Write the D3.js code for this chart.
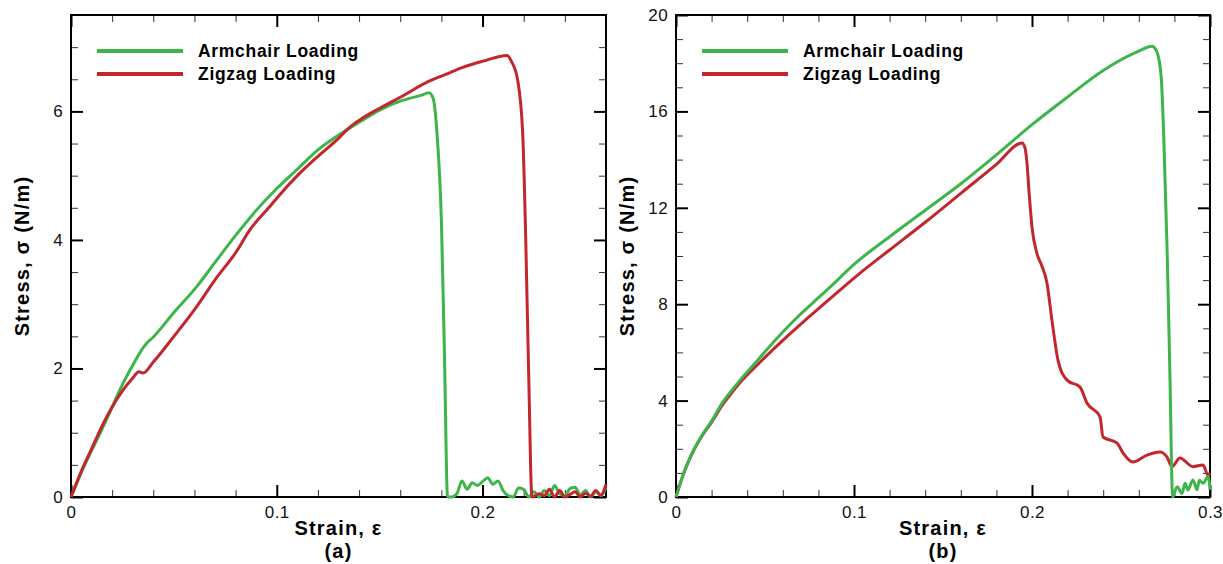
<!DOCTYPE html>
<html>
<head>
<meta charset="utf-8">
<script src="https://cdn.jsdelivr.net/npm/d3@7"></script>
<style>
  body { margin: 0; background: #fff; }
  svg { font-family: 'Liberation Sans', Arial, sans-serif; }
</style>
</head>
<body>
<svg id="chart" width="1223" height="564"></svg>
<script>
// panel (a): [strain, stress]
const armchairA = [
  [0, 0], [0.005, 0.38], [0.01, 0.72], [0.015, 1.05], [0.02, 1.4], [0.025, 1.75],
  [0.03, 2.05], [0.035, 2.32], [0.037, 2.4], [0.04, 2.49], [0.05, 2.87], [0.061, 3.27],
  [0.07, 3.65], [0.08, 4.07], [0.09, 4.46], [0.1, 4.8], [0.11, 5.1], [0.12, 5.4],
  [0.13, 5.63], [0.14, 5.83], [0.15, 6.02], [0.16, 6.16], [0.17, 6.25], [0.174, 6.29],
  [0.176, 6.2], [0.178, 5.6], [0.18, 4.3], [0.1815, 2.2], [0.183, 0],
  [0.185, 0], [0.1875, 0.05], [0.19, 0.25], [0.1925, 0.12], [0.195, 0.22], [0.1975, 0.18],
  [0.2, 0.24], [0.2025, 0.3], [0.205, 0.2], [0.2075, 0.25], [0.21, 0.1], [0.2125, 0.02],
  [0.215, 0], [0.2175, 0.14], [0.22, 0.12], [0.2225, 0], [0.225, 0.08], [0.2275, 0],
  [0.23, 0.1], [0.2325, 0.02], [0.235, 0.18], [0.2375, 0.05], [0.24, 0.02], [0.2425, 0.13],
  [0.245, 0.15], [0.2475, 0.03], [0.25, 0.1], [0.2525, 0], [0.255, 0.08], [0.2575, 0.02], [0.26, 0.15]
]
const zigzagA = [
  [0, 0], [0.005, 0.4], [0.01, 0.75], [0.015, 1.1], [0.02, 1.4], [0.025, 1.65],
  [0.03, 1.85], [0.033, 1.95], [0.035, 1.93], [0.04, 2.1], [0.05, 2.5], [0.061, 2.96],
  [0.07, 3.38], [0.08, 3.8], [0.087, 4.16], [0.0966, 4.52], [0.1, 4.65], [0.11, 5.0],
  [0.12, 5.3], [0.13, 5.58], [0.135, 5.74], [0.14, 5.86], [0.15, 6.05], [0.16, 6.22],
  [0.174, 6.47], [0.184, 6.6], [0.19, 6.68], [0.2, 6.78], [0.212, 6.87], [0.214, 6.78],
  [0.217, 6.5], [0.2195, 5.67], [0.221, 4.0], [0.2225, 1.8], [0.224, 0],
  [0.2275, 0.05], [0.23, 0.02], [0.2325, 0.12], [0.235, 0], [0.2375, 0.1], [0.24, 0],
  [0.2425, 0.04], [0.245, 0.08], [0.2475, 0], [0.25, 0.06], [0.2525, 0.01], [0.255, 0.1],
  [0.2575, 0.03], [0.26, 0.2]
]

// panel (b): [strain, stress]
const armchairB = [
  [0, 0], [0.003, 0.7], [0.006, 1.3], [0.01, 1.95], [0.015, 2.6], [0.02, 3.15],
  [0.0264, 3.95], [0.03, 4.3], [0.036, 4.85], [0.045, 5.6], [0.0562, 6.55], [0.068, 7.45],
  [0.0805, 8.3], [0.09, 8.95], [0.1, 9.65], [0.12, 10.8], [0.14, 11.9], [0.16, 13.0],
  [0.18, 14.2], [0.2, 15.45], [0.22, 16.6], [0.24, 17.7], [0.26, 18.5], [0.2674, 18.7],
  [0.27, 18.5], [0.2725, 17.5], [0.274, 15], [0.276, 10], [0.2775, 5], [0.279, 0],
  [0.2815, 0.43], [0.2843, 0.15], [0.286, 0.57], [0.2876, 0.29], [0.2904, 0.71],
  [0.2927, 0.3], [0.294, 0.7], [0.2961, 0.57], [0.299, 0.85], [0.3, 0.3]
]
const zigzagB = [
  [0, 0], [0.003, 0.7], [0.006, 1.3], [0.01, 1.95], [0.015, 2.58], [0.02, 3.1],
  [0.0264, 3.85], [0.03, 4.2], [0.036, 4.75], [0.0466, 5.55], [0.06, 6.5], [0.0747, 7.47],
  [0.09, 8.45], [0.1034, 9.29], [0.12, 10.25], [0.14, 11.4], [0.16, 12.6], [0.18, 13.8],
  [0.1944, 14.69], [0.196, 14.5], [0.197, 14.0], [0.1985, 12.5], [0.2, 11.2], [0.2028, 10.1],
  [0.2055, 9.6], [0.2084, 8.88], [0.2112, 7.34], [0.2146, 5.68], [0.2197, 4.85], [0.227, 4.56],
  [0.2309, 3.9], [0.2382, 3.32], [0.2399, 2.49], [0.2478, 2.24], [0.2511, 1.83], [0.2567, 1.45],
  [0.2646, 1.74], [0.2719, 1.87], [0.2758, 1.66], [0.2787, 1.26], [0.2831, 1.62], [0.2904, 1.26],
  [0.2961, 1.33], [0.2989, 0.9], [0.3, 1.0]
]

const seriesNames = ['Armchair Loading', 'Zigzag Loading']
const panelLabels = ['(a)', '(b)']
const xMajorTicksA = [0, 0.1, 0.2]
const yMajorTicksA = [0, 2, 4, 6]
const xMajorTicksB = [0, 0.1, 0.2, 0.3]
const yMajorTicksB = [0, 4, 8, 12, 16, 20]

const green = '#3db54a'
const red = '#c1272d'

const svg = d3.select('#chart')

/**
 * Draws one stress-strain panel
 */
function drawPanel (opts) {
  const { left, right, top, bottom } = opts
  const g = svg.append('g')

  const x = d3.scaleLinear().domain(opts.xDomain).range([left, right])
  const y = d3.scaleLinear().domain(opts.yDomain).range([bottom, top])

  const minorX = d3.range(opts.xDomain[0], opts.xDomain[1] + 1e-9, opts.xMinor)
    .filter(v => !opts.xMajor.some(m => Math.abs(m - v) < 1e-9))
  const minorY = d3.range(opts.yDomain[0], opts.yDomain[1] + 1e-9, opts.yMinor)
    .filter(v => !opts.yMajor.some(m => Math.abs(m - v) < 1e-9))

  const axes = [
    [d3.axisBottom, `translate(0,${bottom})`, x, true],
    [d3.axisTop, `translate(0,${top})`, x, false],
    [d3.axisLeft, `translate(${left},0)`, y, true],
    [d3.axisRight, `translate(${right},0)`, y, false]
  ]
  axes.forEach(([axisFn, tr, scale, labels]) => {
    const isX = scale === x
    const major = isX ? opts.xMajor : opts.yMajor
    const minor = isX ? minorX : minorY
    const minorAxis = g.append('g').attr('transform', tr)
      .call(axisFn(scale).tickValues(minor).tickSize(-7).tickFormat(''))
    minorAxis.selectAll('.tick line').attr('stroke', '#333').attr('stroke-width', 1)
    const majorAxis = g.append('g').attr('transform', tr)
      .call(axisFn(scale).tickValues(major).tickSize(-12).tickPadding(isX ? 9 : 8)
        .tickFormat(labels ? (d => d3.format('~g')(d)) : ''))
    majorAxis.selectAll('.tick line').attr('stroke', '#000').attr('stroke-width', 2)
    majorAxis.selectAll('text')
      .style('font-size', '17px').style('letter-spacing', '0.4px').attr('fill', '#111')
    g.selectAll('.domain').remove()
  })

  g.append('rect')
    .attr('x', left).attr('y', top)
    .attr('width', right - left).attr('height', bottom - top)
    .attr('fill', 'none').attr('stroke', '#000').attr('stroke-width', 2)

  const line = d3.line().x(d => x(d[0])).y(d => y(d[1])).curve(d3.curveMonotoneX)
  opts.series.forEach(s => {
    g.append('path')
      .datum(s.data)
      .attr('d', line)
      .attr('fill', 'none')
      .attr('stroke', s.color)
      .attr('stroke-width', 3)
      .attr('stroke-linejoin', 'round')
  })

  // legend
  const legend = g.append('g')
  ;[green, red].forEach((c, i) => {
    const ly = top + 36 + i * 23
    legend.append('line')
      .attr('x1', left + 26).attr('x2', left + 112)
      .attr('y1', ly).attr('y2', ly)
      .attr('stroke', c).attr('stroke-width', 4)
    legend.append('text')
      .attr('x', left + 127).attr('y', ly + 6)
      .style('font-size', '17.5px').style('font-weight', 'bold')
      .style('letter-spacing', '0.7px')
      .text(seriesNames[i])
  })

  const cx = (left + right) / 2
  g.append('text')
    .attr('x', cx).attr('y', 535)
    .attr('text-anchor', 'middle')
    .style('font-size', '20px').style('font-weight', 'bold').style('letter-spacing', '1.2px')
    .text('Strain, ε')
  g.append('text')
    .attr('x', cx).attr('y', 558)
    .attr('text-anchor', 'middle')
    .style('font-size', '20px').style('font-weight', 'bold').style('letter-spacing', '1.2px')
    .text(opts.label)
  g.append('text')
    .attr('transform', `translate(${opts.yTitleX},${(top + bottom) / 2}) rotate(-90)`)
    .attr('text-anchor', 'middle')
    .style('font-size', '20px').style('font-weight', 'bold').style('letter-spacing', '1.2px')
    .text('Stress, σ (N/m)')
}

drawPanel({
  left: 71, right: 606, top: 15, bottom: 497,
  xDomain: [0, 0.26], yDomain: [0, 7.5],
  xMajor: xMajorTicksA, yMajor: yMajorTicksA, xMinor: 0.02, yMinor: 0.5,
  yTitleX: 29, label: panelLabels[0],
  series: [{ data: armchairA, color: green }, { data: zigzagA, color: red }]
})

drawPanel({
  left: 676, right: 1210, top: 15, bottom: 497,
  xDomain: [0, 0.3], yDomain: [0, 20],
  xMajor: xMajorTicksB, yMajor: yMajorTicksB, xMinor: 0.02, yMinor: 1,
  yTitleX: 634, label: panelLabels[1],
  series: [{ data: zigzagB, color: red }, { data: armchairB, color: green }]
})
</script>
</body>
</html>
